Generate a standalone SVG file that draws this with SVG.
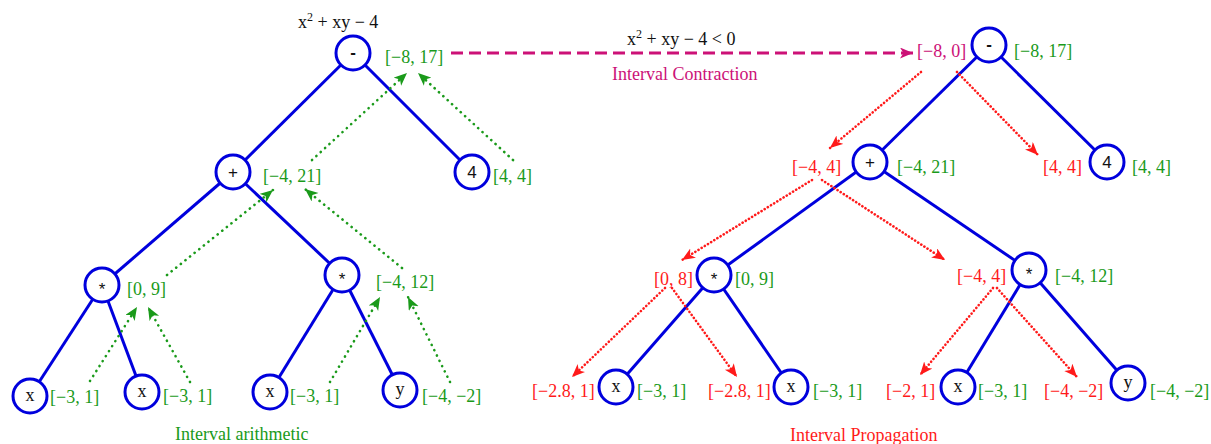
<svg xmlns="http://www.w3.org/2000/svg" width="1211" height="444" viewBox="0 0 1211 444">
<style>
.nd{fill:#fff;stroke:#0000dd;stroke-width:3}
.ed{stroke:#0000dd;stroke-width:3;fill:none}
.ns{font-family:"Liberation Sans",Arial,sans-serif;font-size:17px;fill:#111;text-anchor:middle}
.nv{font-family:"Liberation Serif","Times New Roman",serif;font-size:18px;fill:#111;text-anchor:middle}
.t{font-family:"Liberation Serif","Times New Roman",serif;font-size:18px}
.g{fill:#1a9a1a}
.r{fill:#ff1a1a}
.m{fill:#cc1177}
.k{fill:#111}
.ga{stroke:#1a9a1a;stroke-width:2.6;stroke-linecap:round;stroke-dasharray:0.1 5.8;fill:none;marker-end:url(#mg)}
.ra{stroke:#ff1a1a;stroke-width:2.6;stroke-linecap:round;stroke-dasharray:0.1 3.6;fill:none;marker-end:url(#mr)}
.ma{stroke:#cc1177;stroke-width:3;stroke-dasharray:12 6;fill:none;marker-end:url(#mm)}
</style>
<defs>
<marker id="mg" markerUnits="userSpaceOnUse" markerWidth="14" markerHeight="12" refX="13" refY="5.5" orient="auto"><path d="M0,0 L13,5.5 L0,11 L3.5,5.5 z" fill="#1a9a1a"/></marker>
<marker id="mr" markerUnits="userSpaceOnUse" markerWidth="14" markerHeight="12" refX="13" refY="5.5" orient="auto"><path d="M0,0 L13,5.5 L0,11 L3.5,5.5 z" fill="#ff1a1a"/></marker>
<marker id="mm" markerUnits="userSpaceOnUse" markerWidth="14" markerHeight="12" refX="13" refY="5.5" orient="auto"><path d="M0,0 L13,5.5 L0,11 L3.5,5.5 z" fill="#cc1177"/></marker>
</defs>

<g id="connectors">
<line class="ed" x1="353" y1="53" x2="233" y2="172"/>
<line class="ed" x1="353" y1="53" x2="472" y2="172"/>
<line class="ed" x1="233" y1="172" x2="102" y2="285"/>
<line class="ed" x1="233" y1="172" x2="342" y2="275"/>
<line class="ed" x1="102" y1="285" x2="30" y2="396"/>
<line class="ed" x1="102" y1="285" x2="142" y2="392"/>
<line class="ed" x1="342" y1="275" x2="270" y2="392"/>
<line class="ed" x1="342" y1="275" x2="400" y2="390"/>
<line class="ed" x1="989" y1="45" x2="870" y2="162"/>
<line class="ed" x1="989" y1="45" x2="1107" y2="162"/>
<line class="ed" x1="870" y1="162" x2="714" y2="275"/>
<line class="ed" x1="870" y1="162" x2="1029" y2="270"/>
<line class="ed" x1="714" y1="275" x2="616" y2="387"/>
<line class="ed" x1="714" y1="275" x2="791" y2="387"/>
<line class="ed" x1="1029" y1="270" x2="958" y2="387"/>
<line class="ed" x1="1029" y1="270" x2="1128" y2="383"/>
<!-- green bottom-up arrows -->
<line class="ga" x1="90" y1="381" x2="137" y2="307"/>
<line class="ga" x1="190" y1="382" x2="148" y2="307"/>
<line class="ga" x1="330" y1="382" x2="380" y2="297"/>
<line class="ga" x1="450" y1="382" x2="408" y2="297"/>
<line class="ga" x1="167" y1="275" x2="273" y2="190"/>
<line class="ga" x1="402" y1="268" x2="305" y2="189"/>
<line class="ga" x1="312" y1="160" x2="407" y2="73"/>
<line class="ga" x1="513" y1="160" x2="418" y2="73"/>
<!-- contraction -->
<line class="ma" x1="451" y1="53" x2="913" y2="53"/>
<!-- red top-down arrows -->
<line class="ra" x1="921" y1="72" x2="830" y2="148"/>
<line class="ra" x1="957" y1="72" x2="1038" y2="155"/>
<line class="ra" x1="812" y1="180" x2="682" y2="260"/>
<line class="ra" x1="822" y1="180" x2="945" y2="260"/>
<line class="ra" x1="665" y1="288" x2="572" y2="377"/>
<line class="ra" x1="672" y1="288" x2="737" y2="377"/>
<line class="ra" x1="993" y1="288" x2="920" y2="375"/>
<line class="ra" x1="997" y1="288" x2="1077" y2="377"/>
</g>

<!-- left tree -->
<g id="L-minus"><circle class="nd" cx="353" cy="53" r="17"/><text class="ns" x="353" y="58" font-weight="bold">-</text></g>
<g id="L-plus"><circle class="nd" cx="233" cy="172" r="17"/><text class="ns" x="233" y="178">+</text></g>
<g id="L-four"><circle class="nd" cx="472" cy="172" r="17"/><text class="ns" x="472" y="178">4</text></g>
<g id="L-mul1"><circle class="nd" cx="102" cy="285" r="17"/><text class="ns" x="102" y="295">*</text></g>
<g id="L-mul2"><circle class="nd" cx="342" cy="275" r="17"/><text class="ns" x="342" y="285">*</text></g>
<g id="L-x1"><circle class="nd" cx="30" cy="396" r="17"/><text class="nv" x="30" y="401">x</text></g>
<g id="L-x2"><circle class="nd" cx="142" cy="392" r="17"/><text class="nv" x="142" y="397">x</text></g>
<g id="L-x3"><circle class="nd" cx="270" cy="392" r="17"/><text class="nv" x="270" y="397">x</text></g>
<g id="L-y"><circle class="nd" cx="400" cy="390" r="17"/><text class="nv" x="400" y="395">y</text></g>

<!-- right tree -->
<g id="R-minus"><circle class="nd" cx="989" cy="45" r="17"/><text class="ns" x="989" y="50" font-weight="bold">-</text></g>
<g id="R-plus"><circle class="nd" cx="870" cy="162" r="17"/><text class="ns" x="870" y="168">+</text></g>
<g id="R-four"><circle class="nd" cx="1107" cy="162" r="17"/><text class="ns" x="1107" y="168">4</text></g>
<g id="R-mul1"><circle class="nd" cx="714" cy="275" r="17"/><text class="ns" x="714" y="285">*</text></g>
<g id="R-mul2"><circle class="nd" cx="1029" cy="270" r="17"/><text class="ns" x="1029" y="280">*</text></g>
<g id="R-x1"><circle class="nd" cx="616" cy="387" r="17"/><text class="nv" x="616" y="392">x</text></g>
<g id="R-x2"><circle class="nd" cx="791" cy="387" r="17"/><text class="nv" x="791" y="392">x</text></g>
<g id="R-x3"><circle class="nd" cx="958" cy="387" r="17"/><text class="nv" x="958" y="392">x</text></g>
<g id="R-y"><circle class="nd" cx="1128" cy="383" r="17"/><text class="nv" x="1128" y="388">y</text></g>

<g id="labels" class="t">
<text class="k" x="298" y="28">x<tspan font-size="12" dy="-7">2</tspan><tspan dy="7"> + xy − 4</tspan></text>
<text class="k" x="627" y="45">x<tspan font-size="12" dy="-7">2</tspan><tspan dy="7"> + xy − 4 &lt; 0</tspan></text>
<text class="m" x="612" y="80">Interval Contraction</text>
<text class="g" x="175" y="440">Interval arithmetic</text>
<text class="r" x="790" y="441">Interval Propagation</text>

<text class="g" x="385" y="63">[−8, 17]</text>
<text class="g" x="263" y="182">[−4, 21]</text>
<text class="g" x="493" y="182">[4, 4]</text>
<text class="g" x="127" y="295">[0, 9]</text>
<text class="g" x="376" y="288">[−4, 12]</text>
<text class="g" x="50" y="403">[−3, 1]</text>
<text class="g" x="163" y="402">[−3, 1]</text>
<text class="g" x="290" y="402">[−3, 1]</text>
<text class="g" x="422" y="402">[−4, −2]</text>

<text class="m" x="917" y="57">[−8, 0]</text>
<text class="g" x="1014" y="57">[−8, 17]</text>
<text class="r" x="792" y="173">[−4, 4]</text>
<text class="g" x="897" y="173">[−4, 21]</text>
<text class="r" x="1043" y="173">[4, 4]</text>
<text class="g" x="1132" y="173">[4, 4]</text>
<text class="r" x="654" y="285">[0, 8]</text>
<text class="g" x="735" y="285">[0, 9]</text>
<text class="r" x="957" y="282">[−4, 4]</text>
<text class="g" x="1055" y="282">[−4, 12]</text>
<text class="r" x="532" y="397">[−2.8, 1]</text>
<text class="g" x="637" y="397">[−3, 1]</text>
<text class="r" x="708" y="397">[−2.8, 1]</text>
<text class="g" x="813" y="397">[−3, 1]</text>
<text class="r" x="886" y="397">[−2, 1]</text>
<text class="g" x="978" y="397">[−3, 1]</text>
<text class="r" x="1044" y="397">[−4, −2]</text>
<text class="g" x="1150" y="397">[−4, −2]</text>
</g>
</svg>
